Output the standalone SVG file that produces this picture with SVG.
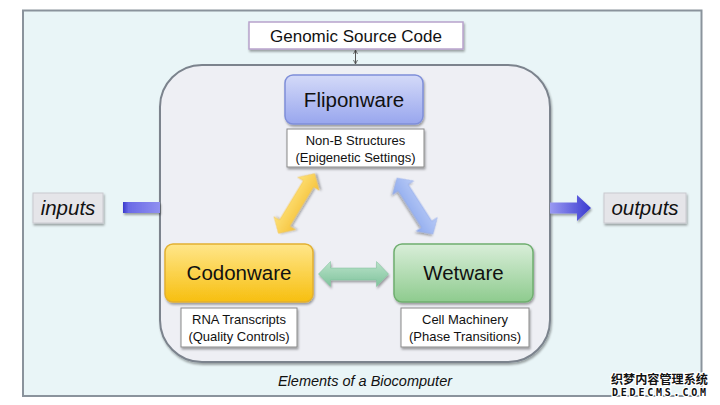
<svg xmlns="http://www.w3.org/2000/svg" width="720" height="405" viewBox="0 0 720 405">
<defs>
<style>
text{font-family:"Liberation Sans",Arial,sans-serif;fill:#111;text-anchor:middle}
.big{font-size:20.5px}
.sub{font-size:13px}
.it{font-style:italic}
.lbl{fill:#fff;stroke:#8a8a8a;stroke-width:1}
.io{fill:#e5e5e9;stroke:#c9c9cf;stroke-width:1}
.wm{font-family:"Noto Sans CJK SC","Liberation Sans",sans-serif;fill:#111;stroke:#fff;stroke-width:2.5px;paint-order:stroke;font-weight:bold;text-anchor:start}
</style>
<filter id="sh" x="-10%" y="-10%" width="130%" height="140%">
<feDropShadow dx="1" dy="2" stdDeviation="1.2" flood-color="#000" flood-opacity="0.35"/>
</filter>
<linearGradient id="gBlue" x1="0" y1="0" x2="0" y2="1">
<stop offset="0" stop-color="#d4daf8"/><stop offset="1" stop-color="#98a6ee"/>
</linearGradient>
<linearGradient id="gYel" x1="0" y1="0" x2="0" y2="1">
<stop offset="0" stop-color="#ffe68a"/><stop offset="1" stop-color="#f7bf10"/>
</linearGradient>
<linearGradient id="gGrn" x1="0" y1="0" x2="0" y2="1">
<stop offset="0" stop-color="#d9eed9"/><stop offset="1" stop-color="#8ecb8e"/>
</linearGradient>
<linearGradient id="aYel" x1="0" y1="0" x2="0" y2="1">
<stop offset="0" stop-color="#fde27a"/><stop offset="1" stop-color="#f6c23a"/>
</linearGradient>
<linearGradient id="aBlu" x1="0" y1="0" x2="0" y2="1">
<stop offset="0" stop-color="#b8caf6"/><stop offset="1" stop-color="#8eaaee"/>
</linearGradient>
<linearGradient id="aGrn" x1="0" y1="0" x2="0" y2="1">
<stop offset="0" stop-color="#b9e2c9"/><stop offset="1" stop-color="#7fc39c"/>
</linearGradient>
<linearGradient id="inG" x1="0" y1="0" x2="1" y2="0">
<stop offset="0" stop-color="#3a3acc"/><stop offset="0.15" stop-color="#6a6ae6"/><stop offset="1" stop-color="#9090f0"/>
</linearGradient>
<linearGradient id="outG" x1="0" y1="0" x2="1" y2="0">
<stop offset="0" stop-color="#9a9af2"/><stop offset="1" stop-color="#3a3ad0"/>
</linearGradient>
<path id="dbl" d="M-35,0 L-23,-12.5 L-23,-6 L23,-6 L23,-12.5 L35,0 L23,12.5 L23,6 L-23,6 L-23,12.5 Z"/>
<marker id="mk" viewBox="0 0 6 6" refX="5" refY="3" markerWidth="5" markerHeight="5" orient="auto-start-reverse">
<path d="M0,0.5 L5,3 L0,5.5" fill="none" stroke="#555" stroke-width="1"/>
</marker>
</defs>

<rect width="720" height="405" fill="#fff"/>

<g id="frame">
<rect x="23" y="10.5" width="678.5" height="385.5" fill="#e9f5f7" stroke="#8a939c" stroke-width="2"/>
</g>

<g id="biocomputer">
<rect x="160" y="65" width="390" height="297" rx="42" ry="42" fill="#eeeff4" stroke="#7b838d" stroke-width="2" filter="url(#sh)"/>
<text class="it" x="365" y="386" style="font-size:14.5px">Elements of a Biocomputer</text>
</g>

<g id="connectors">
<line x1="355.5" y1="50" x2="355.5" y2="64" stroke="#555" stroke-width="1" marker-start="url(#mk)" marker-end="url(#mk)"/>
<use href="#dbl" fill="url(#aYel)" stroke="#f0c050" stroke-width="0.5" transform="translate(296.5,203.5) rotate(-58.8)" filter="url(#sh)"/>
<use href="#dbl" fill="url(#aBlu)" stroke="#8aa3e6" stroke-width="0.5" transform="translate(415,206) rotate(57.3) scale(0.95,1)" filter="url(#sh)"/>
<use href="#dbl" fill="url(#aGrn)" stroke="#7dbf98" stroke-width="0.5" transform="translate(353.5,274)" filter="url(#sh)"/>
<rect x="123" y="202" width="37" height="11" fill="url(#inG)" filter="url(#sh)"/>
<path d="M550,202.5 L577,202.5 L577,195 L591,208 L577,221 L577,213.5 L550,213.5 Z" fill="url(#outG)" filter="url(#sh)"/>
</g>

<g id="genomic">
<rect x="249" y="22" width="214" height="27" fill="#fff" stroke="#b8a3cc" stroke-width="1.5" filter="url(#sh)"/>
<text x="356" y="42" style="font-size:17px">Genomic Source Code</text>
</g>

<g id="fliponware">
<rect x="285" y="75" width="138" height="49" rx="8" fill="url(#gBlue)" stroke="#7f8fd9" stroke-width="1.5" filter="url(#sh)"/>
<text class="big" x="354" y="107">Fliponware</text>
<rect class="lbl" x="287" y="129" width="137" height="38" filter="url(#sh)"/>
<text class="sub" x="355.5" y="145">Non-B Structures</text>
<text class="sub" x="355.5" y="161.5">(Epigenetic Settings)</text>
</g>

<g id="codonware">
<rect x="165" y="244" width="148" height="58" rx="8" fill="url(#gYel)" stroke="#e2b030" stroke-width="1.5" filter="url(#sh)"/>
<text class="big" x="239" y="280">Codonware</text>
<rect class="lbl" x="181" y="308" width="116" height="39" filter="url(#sh)"/>
<text class="sub" x="239" y="324">RNA Transcripts</text>
<text class="sub" x="239" y="340.5">(Quality Controls)</text>
</g>

<g id="wetware">
<rect x="394" y="244" width="139" height="58" rx="8" fill="url(#gGrn)" stroke="#6fae6f" stroke-width="1.5" filter="url(#sh)"/>
<text class="big" x="463.5" y="280">Wetware</text>
<rect class="lbl" x="401" y="308" width="128" height="39" filter="url(#sh)"/>
<text class="sub" x="465" y="324">Cell Machinery</text>
<text class="sub" x="465" y="340.5">(Phase Transitions)</text>
</g>

<g id="inputs">
<rect class="io" x="33" y="193" width="70" height="30" filter="url(#sh)"/>
<text class="it" x="68" y="215" style="font-size:20.5px">inputs</text>
</g>

<g id="outputs">
<rect class="io" x="604" y="193" width="82" height="30" filter="url(#sh)"/>
<text class="it" x="645" y="215" style="font-size:20.5px">outputs</text>
</g>

<g id="watermark">
<text class="wm" x="611" y="384" style="font-size:12px" textLength="97" lengthAdjust="spacingAndGlyphs">织梦内容管理系统</text>
<text class="wm" x="612" y="396" style="font-size:10px;font-family:'DejaVu Sans Mono','Liberation Mono',monospace" textLength="94" lengthAdjust="spacing">DEDECMS.COM</text>
</g>
</svg>
